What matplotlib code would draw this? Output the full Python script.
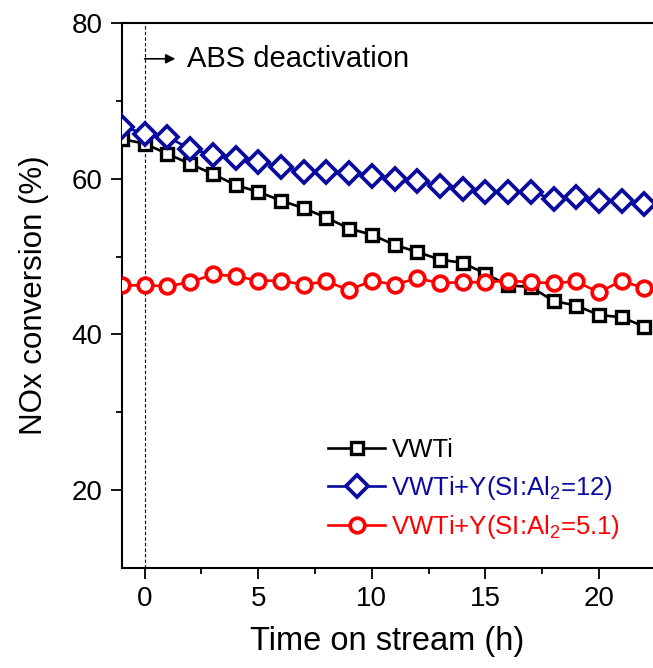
import matplotlib
matplotlib.use("Agg")
import matplotlib.pyplot as plt
import numpy as np

plt.rcParams['font.family'] = ['Liberation Sans', 'DejaVu Sans']
plt.rcParams['mathtext.fontset'] = 'custom'
plt.rcParams['mathtext.rm'] = 'Liberation Sans'
plt.rcParams['mathtext.default'] = 'regular'

# time on stream (h)
hours = list(range(-1, 23))

# NOx conversion (%)
vwti = [65.1, 64.5, 63.2, 61.9, 60.6, 59.2, 58.3, 57.2, 56.2, 55.0, 53.6, 52.8,
        51.5, 50.6, 49.6, 49.2, 47.8, 46.3, 46.1, 44.3, 43.7, 42.5, 42.2, 41.0]
vwti_y12 = [66.7, 65.8, 65.4, 63.8, 63.1, 62.6, 62.2, 61.5, 60.9, 60.8, 60.7, 60.3,
            60.0, 59.7, 59.1, 58.7, 58.3, 58.3, 58.3, 57.4, 57.6, 57.1, 57.1, 56.7]
vwti_y51 = [46.3, 46.3, 46.2, 46.7, 47.7, 47.5, 46.9, 46.9, 46.4, 46.8, 45.7, 46.9,
            46.4, 47.2, 46.6, 46.7, 46.7, 46.9, 46.7, 46.6, 46.8, 45.4, 46.9, 45.9]

labels = ['VWTi', 'VWTi+Y(SI:Al$_2$=12)', 'VWTi+Y(SI:Al$_2$=5.1)']
colors = ['black', '#0A0A9E', '#FF0000']

fig = plt.figure(figsize=(6.53, 6.68), dpi=100)
ax = fig.add_axes([0.1868, 0.1497, 0.8132, 0.8159])

ax.plot(hours, vwti, color=colors[0], lw=1.9, marker='s', ms=8, mew=2.4,
        mfc='white', label=labels[0], zorder=3)
ax.plot(hours, vwti_y12, color=colors[1], lw=1.9, marker='D', ms=11, mew=2.7,
        mfc='white', label=labels[1], zorder=3)
ax.plot(hours, vwti_y51, color=colors[2], lw=1.9, marker='o', ms=10.5, mew=2.7,
        mfc='white', label=labels[2], zorder=3)

# start of ABS deactivation
ax.axvline(0, color='black', lw=0.8, ls=(0, (3, 2)), zorder=1)
ax.annotate('', xy=(1.35, 75.4), xytext=(0, 75.4),
            arrowprops=dict(arrowstyle='-|>', color='black', lw=1.2,
                            mutation_scale=14, shrinkA=0, shrinkB=0))
ax.text(1.85, 75.4, 'ABS deactivation', fontsize=21, va='center', ha='left')

ax.set_xlim(-1, 22.38)
ax.set_ylim(10, 80)
ax.set_xticks([0, 5, 10, 15, 20])
ax.set_xticks(np.arange(2.5, 22, 5), minor=True)
ax.set_yticks([20, 40, 60, 80])
ax.set_yticks([30, 50, 70], minor=True)

ax.spines['right'].set_visible(False)
for s in ['left', 'bottom', 'top']:
    ax.spines[s].set_linewidth(1.5)
ax.tick_params(which='major', direction='out', length=8, width=1.3, labelsize=20)
ax.tick_params(which='minor', direction='out', length=4, width=1.3)
ax.tick_params(axis='x', which='major', pad=5)
ax.tick_params(axis='y', which='major', pad=6)

ax.set_xlabel('Time on stream (h)', fontsize=23.5, labelpad=10)
ax.set_ylabel('NOx conversion (%)', fontsize=22.5, labelpad=16)

leg = ax.legend(loc='upper left', bbox_to_anchor=(0.503, 0.344),
                bbox_transform=fig.transFigure, frameon=False, fontsize=18.5,
                handlelength=2.2, handletextpad=0.25, labelspacing=0.45,
                borderpad=0, borderaxespad=0)
for txt, c in zip(leg.get_texts(), colors):
    txt.set_color(c)

fig.savefig('out.png', dpi=100)
